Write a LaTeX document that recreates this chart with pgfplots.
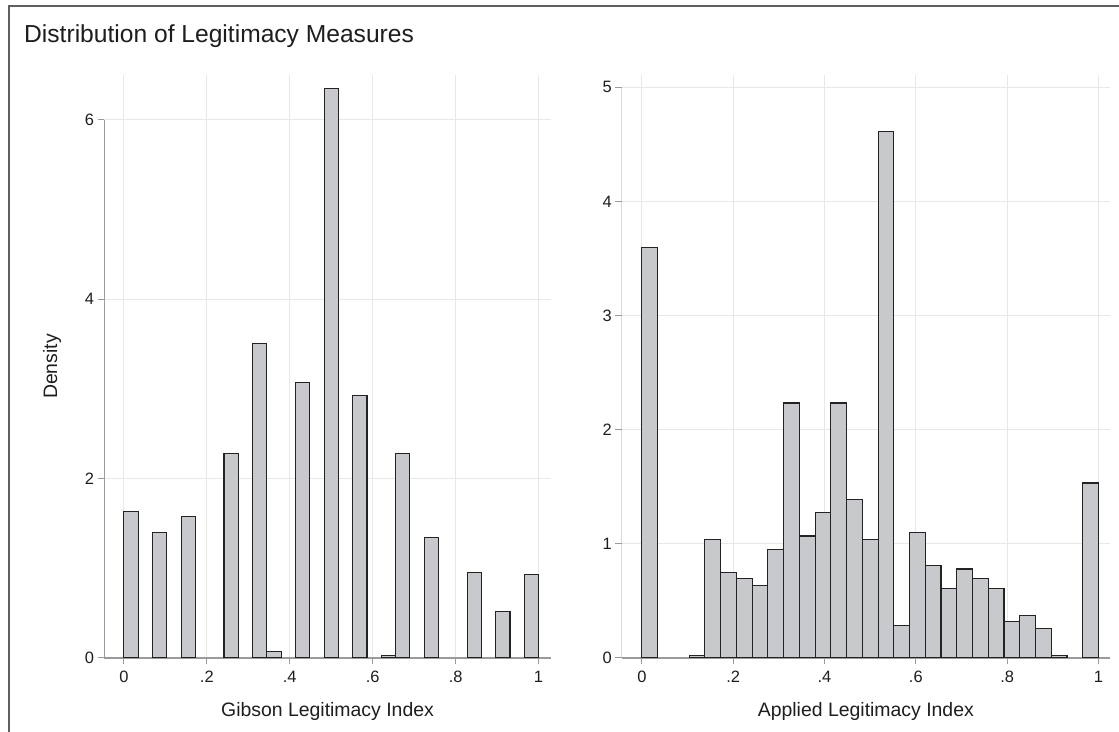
\documentclass[border=0pt]{standalone}
\usepackage{fontspec}
\setmainfont{Liberation Sans}
\usepackage{pgfplots}
\pgfplotsset{compat=1.18}
\definecolor{barfill}{RGB}{200,201,204}
\definecolor{baredge}{RGB}{35,35,35}
\definecolor{axgray}{RGB}{155,155,155}
\definecolor{gridgray}{RGB}{232,232,232}
\definecolor{framegray}{RGB}{95,95,95}
\definecolor{txt}{RGB}{30,30,30}
\pgfplotsset{
  stpanel/.style={
    scale only axis,
    anchor=south west,
    axis x line*=bottom,
    axis y line*=left,
    separate axis lines,
    x axis line style={draw=axgray, line width=1.1bp, -},
    y axis line style={draw=none, -},
    xmajorgrids, ymajorgrids,
    grid style={draw=gridgray, line width=1bp},
    tick align=outside,
    major tick length=6.5bp,
    tick style={draw=axgray, line width=1bp},
    xtick={0,0.2,0.4,0.6,0.8,1},
    xticklabels={0,.2,.4,.6,.8,1},
    ticklabel style={font=\fontsize{16.5}{19}\selectfont, text=txt},
    /pgf/number format/assume math mode=true,
    xticklabel style={yshift=-3bp},
    xlabel style={at={(axis description cs:0.5,0)}, anchor=base, yshift=-59bp, inner sep=0pt, font=\fontsize{19.5}{23}\selectfont, text=txt},
    ymin=0,
  },
  hbar/.style={ybar, bar width=0.03448, bar shift=0pt, fill=barfill, draw=baredge, line width=1.1bp},
}
\begin{document}
\begin{tikzpicture}[x=1bp,y=1bp]
\useasboundingbox (0,0) rectangle (1119,732);
\fill[white] (0,0) rectangle (1119,732);
\draw[framegray, line width=2bp] (9,-2) -- (9,726) -- (1121,726);
\node[anchor=base west, inner sep=0pt, font=\fontsize{24.7}{29}\selectfont, text=txt] at (24,689) {Distribution of Legitimacy Measures};
\node[anchor=base, rotate=90, inner sep=0pt, font=\fontsize{19.5}{23}\selectfont, text=txt] at (57,365.5) {Density};

\begin{axis}[stpanel, at={(104bp,74bp)}, width=447bp, height=583bp,
  xmin=-0.048, xmax=1.030, ymax=6.50, ytick={0,2,4,6},
  xlabel={Gibson Legitimacy Index}]
\draw[axgray, line width=1.1bp] (axis cs:-0.048,0) -- (axis cs:-0.048,6);
\addplot[hbar] coordinates {
 (0.01724,1.635) (0.08621,1.401) (0.15517,1.580) (0.25862,2.280)
 (0.32759,3.510) (0.36207,0.077) (0.43103,3.070) (0.50000,6.354)
 (0.56897,2.930) (0.63793,0.026) (0.67241,2.280) (0.74138,1.346)
 (0.84483,0.954) (0.91379,0.520) (0.98276,0.933)
};
\end{axis}

\begin{axis}[stpanel, at={(621.7bp,74bp)}, width=488.3bp, height=583bp,
  xmin=-0.0442, xmax=1.0253, ymax=5.108, ytick={0,1,2,3,4,5},
  xlabel={Applied Legitimacy Index}]
\draw[axgray, line width=1.1bp] (axis cs:-0.0442,0) -- (axis cs:-0.0442,5);
\addplot[hbar] coordinates {
 (0.01724,3.593) (0.12069,0.024) (0.15517,1.039) (0.18966,0.749)
 (0.22414,0.695) (0.25862,0.634) (0.29310,0.954) (0.32759,2.234)
 (0.36207,1.069) (0.39655,1.274) (0.43103,2.234) (0.46552,1.390)
 (0.50000,1.039) (0.53448,4.615) (0.56897,0.283) (0.60345,1.097)
 (0.63793,0.807) (0.67241,0.606) (0.70690,0.780) (0.74138,0.695)
 (0.77586,0.606) (0.81034,0.317) (0.84483,0.375) (0.87931,0.259)
 (0.91379,0.024) (0.98276,1.533)
};
\end{axis}
\end{tikzpicture}
\end{document}
